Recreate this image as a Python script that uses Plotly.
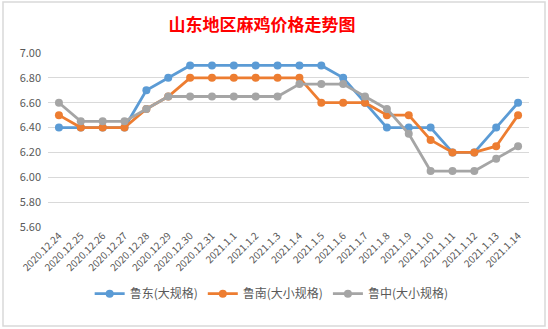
import plotly.graph_objects as go

categories = ["2020.12.24", "2020.12.25", "2020.12.26", "2020.12.27", "2020.12.28",
              "2020.12.29", "2020.12.30", "2020.12.31", "2021.1.1", "2021.1.2",
              "2021.1.3", "2021.1.4", "2021.1.5", "2021.1.6", "2021.1.7",
              "2021.1.8", "2021.1.9", "2021.1.10", "2021.1.11", "2021.1.12",
              "2021.1.13", "2021.1.14"]

ludong = [6.40, 6.40, 6.40, 6.40, 6.70, 6.80, 6.90, 6.90, 6.90, 6.90, 6.90,
          6.90, 6.90, 6.80, 6.60, 6.40, 6.40, 6.40, 6.20, 6.20, 6.40, 6.60]
lunan = [6.50, 6.40, 6.40, 6.40, 6.55, 6.65, 6.80, 6.80, 6.80, 6.80, 6.80,
         6.80, 6.60, 6.60, 6.60, 6.50, 6.50, 6.30, 6.20, 6.20, 6.25, 6.50]
luzhong = [6.60, 6.45, 6.45, 6.45, 6.55, 6.65, 6.65, 6.65, 6.65, 6.65, 6.65,
           6.75, 6.75, 6.75, 6.65, 6.55, 6.35, 6.05, 6.05, 6.05, 6.15, 6.25]

series_names = ["鲁东(大规格)", "鲁南(大小规格)", "鲁中(大小规格)"]
colors = ["#5B9BD5", "#ED7D31", "#A5A5A5"]
y_ticks = [5.60, 5.80, 6.00, 6.20, 6.40, 6.60, 6.80, 7.00]

font_family = "Noto Sans CJK SC, Noto Sans, sans-serif"

fig = go.Figure()
for name, vals, col in zip(series_names, [ludong, lunan, luzhong], colors):
    fig.add_trace(go.Scatter(
        x=list(range(len(categories))), y=vals, name=name, mode="lines+markers",
        line=dict(color=col, width=2.8),
        marker=dict(color=col, size=8),
    ))

fig.update_layout(
    width=548, height=329,
    margin=dict(l=48, r=19, t=53, b=102),
    paper_bgcolor="white", plot_bgcolor="white",
    font=dict(family=font_family, color="#595959"),
    title=dict(text="<b>山东地区麻鸡价格走势图</b>", x=0.478, xanchor="center", y=0.925, yanchor="middle",
               font=dict(family="Noto Sans CJK SC", size=17, color="#FF0000")),
    xaxis=dict(
        range=[-0.5, len(categories) - 0.5],
        tickmode="array", tickvals=list(range(len(categories))), ticktext=categories,
        tickangle=-45, tickfont=dict(size=10, color="#595959"),
        showgrid=False, zeroline=False, showline=False, ticks="",
    ),
    yaxis=dict(
        range=[5.6, 7.0], tickvals=y_ticks, ticktext=[f"{v:.2f}" for v in y_ticks],
        tickfont=dict(size=11, color="#595959"),
        showgrid=True, gridcolor="#D9D9D9", gridwidth=1,
        zeroline=False, showline=False, ticks="", ticklabelstandoff=6,
    ),
    legend=dict(orientation="h", x=0.465, xanchor="center", y=-0.3, yanchor="top",
                font=dict(size=12, color="#595959"), itemwidth=30,
                tracegroupgap=0),
    showlegend=True,
)

fig.add_shape(type="rect", xref="paper", yref="paper",
              x0=-45/481, x1=(545-48)/481, y0=(329-102-326)/174, y1=(329-102-2)/174,
              line=dict(color="#D9D9D9", width=1.5), fillcolor="rgba(0,0,0,0)", layer="below")

fig.write_html("out.html")
